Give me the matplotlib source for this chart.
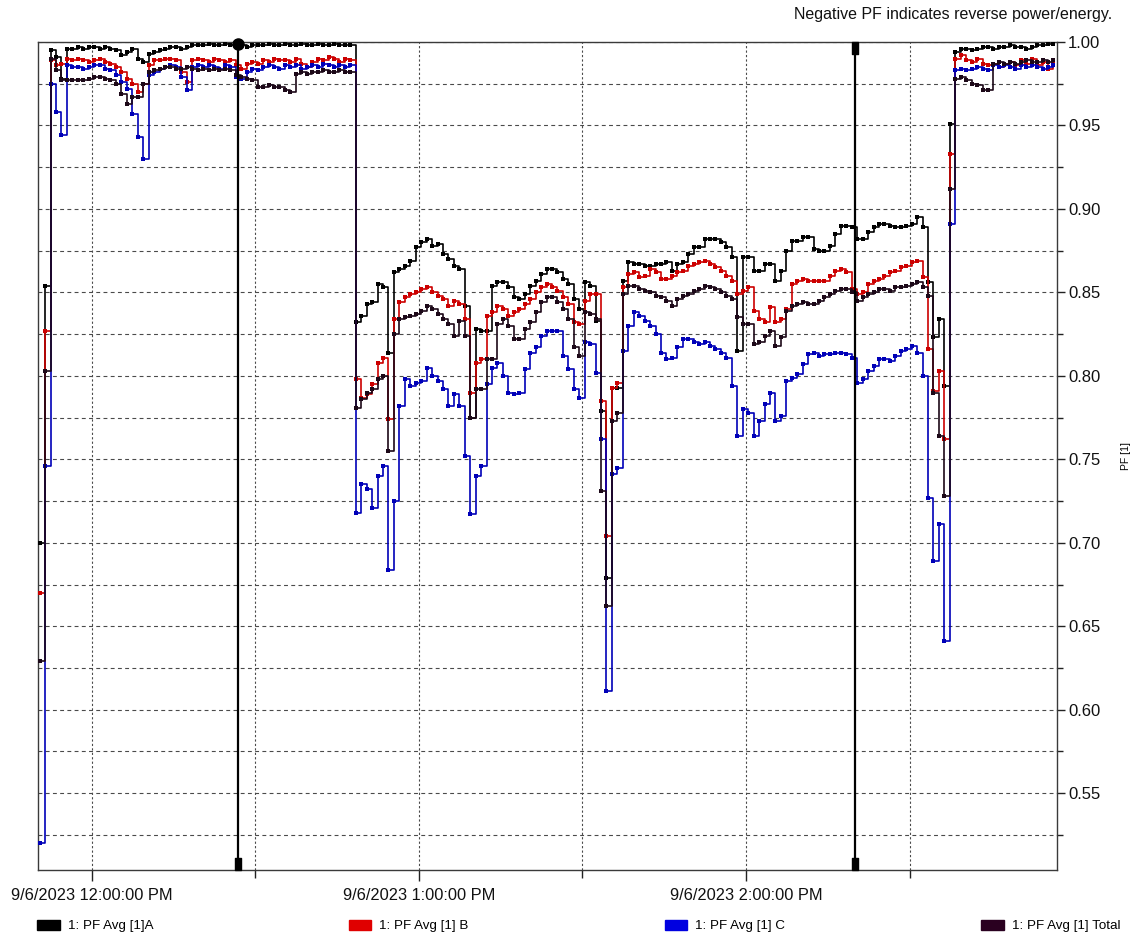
import matplotlib
matplotlib.use("Agg")
import matplotlib.pyplot as plt
import numpy as np
from matplotlib.patches import Patch
from matplotlib.path import Path
from matplotlib.ticker import FixedLocator, NullFormatter
import matplotlib.transforms as mtransforms

plt.rcParams['font.family'] = ['Liberation Sans', 'DejaVu Sans']

# ---- data (PF values, one sample per minute) ----
START_MIN = -9.6      # first sample, minutes relative to 12:00 PM
STEP_MIN = 1.0

pf_a = [
    0.700, 0.854, 0.995, 0.991, 0.978, 0.996, 0.996, 0.997, 0.996, 0.997,
    0.997, 0.996, 0.997, 0.996, 0.995, 0.992, 0.994, 0.996, 0.990, 0.988,
    0.993, 0.994, 0.995, 0.996, 0.997, 0.997, 0.996, 0.997, 0.998, 0.998,
    0.998, 0.999, 0.998, 0.998, 0.999, 0.998, 0.998, 0.998, 0.997, 0.998,
    0.998, 0.998, 0.999, 0.998, 0.998, 0.999, 0.998, 0.998, 0.999, 0.998,
    0.998, 0.999, 0.998, 0.998, 0.999, 0.998, 0.998, 0.998, 0.832, 0.836,
    0.843, 0.844, 0.855, 0.853, 0.814, 0.862, 0.864, 0.866, 0.869, 0.877,
    0.880, 0.882, 0.878, 0.879, 0.873, 0.870, 0.866, 0.864, 0.842, 0.775,
    0.828, 0.827, 0.827, 0.854, 0.856, 0.856, 0.853, 0.847, 0.846, 0.849,
    0.854, 0.857, 0.861, 0.864, 0.864, 0.862, 0.858, 0.855, 0.846, 0.840,
    0.856, 0.854, 0.833, 0.779, 0.679, 0.793, 0.793, 0.857, 0.868, 0.867,
    0.867, 0.866, 0.866, 0.867, 0.867, 0.868, 0.863, 0.867, 0.868, 0.873,
    0.877, 0.877, 0.882, 0.882, 0.882, 0.880, 0.877, 0.871, 0.815, 0.871,
    0.871, 0.863, 0.863, 0.867, 0.867, 0.857, 0.863, 0.875, 0.881, 0.881,
    0.883, 0.883, 0.876, 0.875, 0.875, 0.878, 0.885, 0.890, 0.890, 0.889,
    0.882, 0.882, 0.886, 0.889, 0.891, 0.891, 0.890, 0.889, 0.889, 0.890,
    0.891, 0.895, 0.889, 0.856, 0.823, 0.834, 0.794, 0.951, 0.994, 0.996,
    0.996, 0.995, 0.996, 0.997, 0.997, 0.996, 0.997, 0.997, 0.998, 0.997,
    0.997, 0.996, 0.997, 0.998, 0.998, 0.999, 0.999,
]

pf_b = [
    0.670, 0.827, 0.989, 0.986, 0.987, 0.990, 0.989, 0.990, 0.989, 0.988,
    0.989, 0.990, 0.988, 0.987, 0.985, 0.982, 0.978, 0.975, 0.970, 0.975,
    0.986, 0.989, 0.989, 0.990, 0.990, 0.989, 0.982, 0.976, 0.989, 0.990,
    0.989, 0.988, 0.990, 0.989, 0.988, 0.989, 0.986, 0.984, 0.987, 0.988,
    0.987, 0.989, 0.988, 0.990, 0.989, 0.989, 0.988, 0.990, 0.987, 0.985,
    0.988, 0.990, 0.989, 0.991, 0.990, 0.988, 0.990, 0.989, 0.798, 0.787,
    0.789, 0.795, 0.808, 0.811, 0.774, 0.834, 0.844, 0.847, 0.849, 0.850,
    0.852, 0.853, 0.850, 0.848, 0.846, 0.842, 0.845, 0.843, 0.834, 0.790,
    0.808, 0.810, 0.836, 0.838, 0.842, 0.840, 0.836, 0.838, 0.840, 0.843,
    0.846, 0.850, 0.853, 0.855, 0.853, 0.851, 0.847, 0.843, 0.832, 0.831,
    0.845, 0.849, 0.849, 0.785, 0.704, 0.793, 0.796, 0.853, 0.861, 0.862,
    0.859, 0.860, 0.864, 0.862, 0.858, 0.858, 0.860, 0.862, 0.863, 0.866,
    0.867, 0.868, 0.869, 0.867, 0.865, 0.863, 0.860, 0.857, 0.849, 0.851,
    0.853, 0.839, 0.834, 0.832, 0.841, 0.832, 0.834, 0.840, 0.855, 0.857,
    0.858, 0.857, 0.857, 0.857, 0.857, 0.860, 0.863, 0.864, 0.862, 0.852,
    0.849, 0.850, 0.855, 0.857, 0.858, 0.860, 0.862, 0.863, 0.865, 0.866,
    0.868, 0.869, 0.859, 0.816, 0.791, 0.803, 0.762, 0.933, 0.990, 0.992,
    0.989, 0.988, 0.990, 0.987, 0.986, 0.987, 0.985, 0.987, 0.988, 0.986,
    0.989, 0.987, 0.990, 0.986, 0.988, 0.984, 0.987,
]

pf_c = [
    0.520, 0.746, 0.975, 0.958, 0.944, 0.986, 0.985, 0.985, 0.984, 0.985,
    0.986, 0.986, 0.984, 0.983, 0.980, 0.976, 0.972, 0.957, 0.943, 0.930,
    0.980, 0.982, 0.984, 0.985, 0.986, 0.985, 0.979, 0.971, 0.985, 0.986,
    0.985, 0.986, 0.985, 0.984, 0.986, 0.985, 0.979, 0.978, 0.982, 0.984,
    0.983, 0.985, 0.986, 0.985, 0.984, 0.986, 0.985, 0.986, 0.984, 0.985,
    0.986, 0.985, 0.987, 0.986, 0.985, 0.986, 0.985, 0.986, 0.718, 0.735,
    0.732, 0.721, 0.740, 0.746, 0.684, 0.725, 0.782, 0.798, 0.794, 0.796,
    0.797, 0.805, 0.800, 0.797, 0.792, 0.782, 0.789, 0.782, 0.752, 0.717,
    0.740, 0.746, 0.795, 0.805, 0.808, 0.800, 0.790, 0.789, 0.790, 0.804,
    0.814, 0.817, 0.824, 0.827, 0.827, 0.827, 0.812, 0.804, 0.792, 0.787,
    0.820, 0.819, 0.802, 0.762, 0.611, 0.741, 0.745, 0.815, 0.830, 0.838,
    0.836, 0.833, 0.830, 0.825, 0.814, 0.810, 0.811, 0.817, 0.822, 0.822,
    0.820, 0.819, 0.820, 0.818, 0.816, 0.814, 0.811, 0.794, 0.764, 0.780,
    0.778, 0.764, 0.773, 0.783, 0.790, 0.773, 0.776, 0.797, 0.799, 0.801,
    0.807, 0.813, 0.814, 0.812, 0.813, 0.813, 0.814, 0.814, 0.813, 0.811,
    0.796, 0.798, 0.803, 0.806, 0.810, 0.810, 0.809, 0.812, 0.815, 0.816,
    0.818, 0.814, 0.800, 0.727, 0.689, 0.711, 0.641, 0.891, 0.983, 0.984,
    0.983, 0.984, 0.985, 0.984, 0.983, 0.986, 0.985, 0.986, 0.985, 0.984,
    0.986, 0.985, 0.986, 0.985, 0.984, 0.985, 0.986,
]

pf_total = [
    0.629, 0.803, 0.990, 0.983, 0.977, 0.977, 0.977, 0.977, 0.977, 0.978,
    0.979, 0.979, 0.978, 0.977, 0.975, 0.969, 0.963, 0.967, 0.967, 0.975,
    0.982, 0.983, 0.984, 0.985, 0.985, 0.984, 0.984, 0.985, 0.984, 0.983,
    0.984, 0.983, 0.984, 0.983, 0.984, 0.983, 0.980, 0.979, 0.978, 0.977,
    0.973, 0.973, 0.974, 0.973, 0.973, 0.971, 0.970, 0.981, 0.982, 0.981,
    0.982, 0.982, 0.983, 0.982, 0.982, 0.983, 0.982, 0.982, 0.781, 0.786,
    0.790, 0.792, 0.798, 0.800, 0.755, 0.825, 0.834, 0.835, 0.836, 0.837,
    0.839, 0.842, 0.840, 0.837, 0.834, 0.831, 0.824, 0.833, 0.824, 0.775,
    0.792, 0.792, 0.810, 0.810, 0.831, 0.834, 0.830, 0.822, 0.822, 0.828,
    0.832, 0.838, 0.844, 0.847, 0.847, 0.844, 0.840, 0.834, 0.817, 0.812,
    0.838, 0.837, 0.834, 0.731, 0.662, 0.773, 0.778, 0.849, 0.854, 0.854,
    0.852, 0.851, 0.850, 0.848, 0.847, 0.845, 0.842, 0.846, 0.848, 0.849,
    0.851, 0.852, 0.854, 0.853, 0.852, 0.850, 0.848, 0.846, 0.835, 0.831,
    0.831, 0.819, 0.820, 0.824, 0.827, 0.818, 0.823, 0.839, 0.842, 0.843,
    0.844, 0.843, 0.843, 0.845, 0.847, 0.849, 0.851, 0.852, 0.852, 0.850,
    0.845, 0.847, 0.849, 0.850, 0.852, 0.852, 0.851, 0.853, 0.853, 0.854,
    0.855, 0.856, 0.853, 0.848, 0.790, 0.764, 0.728, 0.912, 0.978, 0.979,
    0.977, 0.975, 0.974, 0.971, 0.971, 0.987, 0.988, 0.987, 0.988, 0.987,
    0.988, 0.989, 0.988, 0.988, 0.989, 0.988, 0.989,
]

series_labels = ["1: PF Avg [1]A", "1: PF Avg [1] B", "1: PF Avg [1] C", "1: PF Avg [1] Total"]
x_tick_minutes = [0, 60, 120]
x_tick_labels = ["9/6/2023 12:00:00 PM", "9/6/2023 1:00:00 PM", "9/6/2023 2:00:00 PM"]
cursor_minutes = [26.8, 140.0]
note_text = "Negative PF indicates reverse power/energy."
y_label = "PF [1]"

# ---- styling ----
line_colors = ["#000000", "#cc0000", "#0000b8", "#1c0818"]
legend_colors = ["#000000", "#e00000", "#0000e0", "#2a0020"]

n = len(pf_a)
assert len(pf_b) == n and len(pf_c) == n and len(pf_total) == n
t = START_MIN + STEP_MIN * np.arange(n)

W, H = 1132, 938
fig = plt.figure(figsize=(W / 100, H / 100), dpi=100)
fig.patch.set_facecolor("white")
L, R, TP, BT = 38, 1057, 42, 870
ax = fig.add_axes([L / W, 1 - BT / H, (R - L) / W, (BT - TP) / H])

ax.set_xlim(-9.9, 177.06)
ax.set_ylim(0.504, 1.0)

ax.xaxis.set_major_locator(FixedLocator(x_tick_minutes))
ax.xaxis.set_minor_locator(FixedLocator([30, 90, 150]))
ax.set_xticklabels(x_tick_labels)
ax.xaxis.set_minor_formatter(NullFormatter())
ymaj = np.round(np.arange(0.55, 1.0001, 0.05), 3)
ymin = np.round(np.arange(0.525, 0.99, 0.05), 3)
ax.yaxis.set_major_locator(FixedLocator(ymaj))
ax.yaxis.set_minor_locator(FixedLocator(ymin))
ax.set_yticklabels([f"{v:.2f}" for v in ymaj])
ax.yaxis.set_minor_formatter(NullFormatter())
ax.yaxis.tick_right()
ax.yaxis.set_label_position("right")

ax.grid(True, axis="y", which="both", color="#4a4a4a", linestyle=(0, (3.5, 3.0)), linewidth=0.8)
ax.grid(True, axis="x", which="both", color="#4a4a4a", linestyle=(0, (2.0, 2.0)), linewidth=0.8)
ax.set_axisbelow(True)

ax.tick_params(axis="y", which="major", direction="out", length=6, width=1, labelsize=12, pad=2, colors="#222222")
ax.tick_params(axis="y", which="minor", direction="out", length=4, width=1, colors="#222222")
ax.tick_params(axis="x", which="both", direction="out", length=8, width=1, labelsize=11.8, pad=5, colors="#222222")
ax.tick_params(axis="x", which="minor", length=6)
for lab in ax.get_xticklabels() + ax.get_yticklabels():
    lab.set_color("#111111")

for sp in ax.spines.values():
    sp.set_color("#3a3a3a")
    sp.set_linewidth(1.0)

ax.set_ylabel(y_label, fontsize=7.5, labelpad=15, rotation=90)

# data lines
for vals, col in zip([pf_a, pf_b, pf_c, pf_total], line_colors):
    ax.plot(t, vals, drawstyle="steps-post", color=col, linewidth=1.2,
            marker="s", markersize=2.2, markeredgewidth=0, zorder=3)

# cursors
trans = mtransforms.blended_transform_factory(ax.transData, ax.transAxes)
rect_marker = Path([(-0.45, -1), (0.45, -1), (0.45, 1), (-0.45, 1), (-0.45, -1)],
                   [Path.MOVETO, Path.LINETO, Path.LINETO, Path.LINETO, Path.CLOSEPOLY])
for i, cm in enumerate(cursor_minutes):
    ax.axvline(cm, color="black", linewidth=1.6, zorder=4)
    if i == 0:
        ax.plot([cm], [0.997], marker="o", markersize=8, color="black", transform=trans,
                clip_on=False, zorder=5)
    else:
        ax.plot([cm], [0.993], marker=rect_marker, markersize=9, color="black", transform=trans,
                clip_on=False, zorder=5)
    ax.plot([cm], [0.007], marker=rect_marker, markersize=9, color="black", transform=trans,
            clip_on=False, zorder=5)

# note text
fig.text(1112 / W, 1 - 14 / H, note_text, ha="right", va="center", fontsize=11.5, color="#111111")

# legend
handles = [Patch(facecolor=c, edgecolor=c) for c in legend_colors]
fig.legend(handles, series_labels, loc="center", ncol=4, mode="expand",
           bbox_to_anchor=(37 / W, 1 - 933 / H, (1120 - 37) / W, 14 / H),
           frameon=False, fontsize=9.6, handlelength=1.7, handleheight=0.85,
           handletextpad=0.6, borderaxespad=0, borderpad=0, columnspacing=0.5)

fig.savefig("out.png", dpi=100, facecolor="white")
